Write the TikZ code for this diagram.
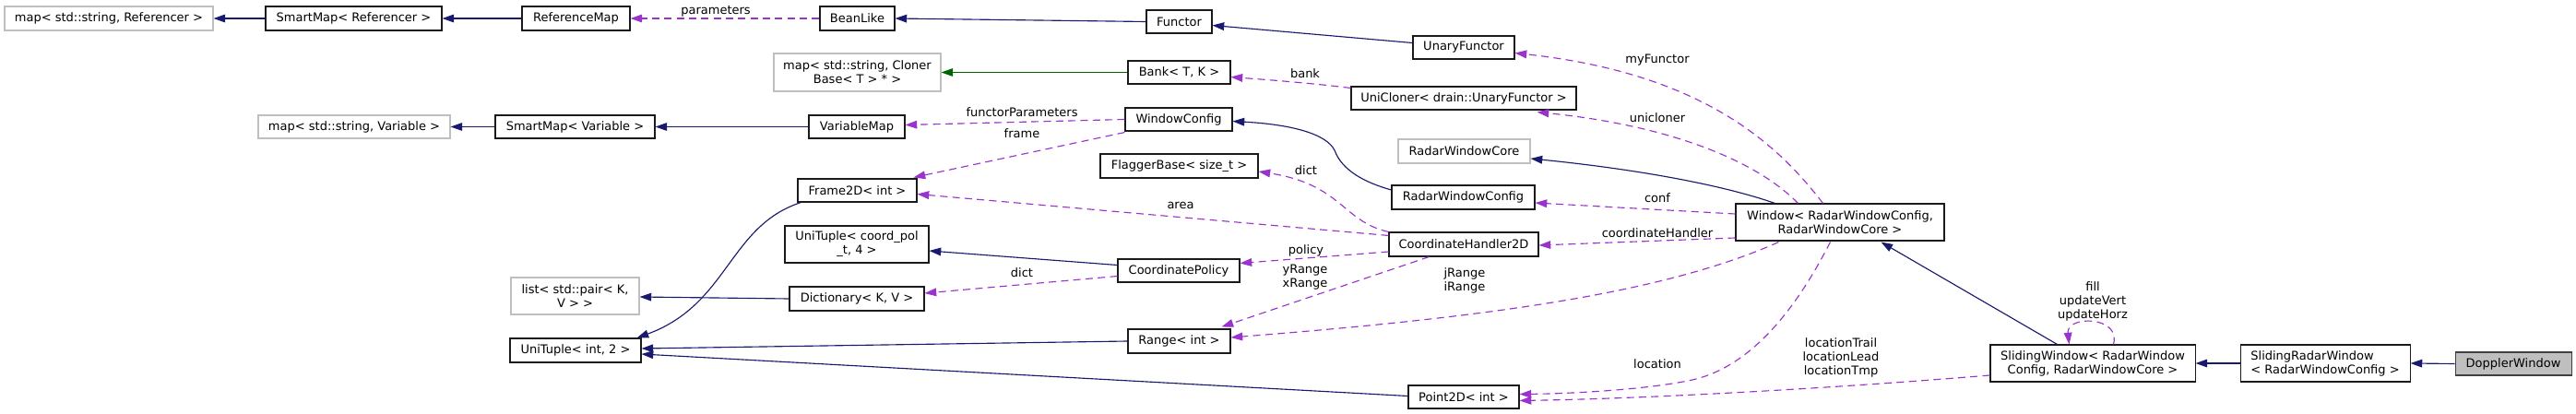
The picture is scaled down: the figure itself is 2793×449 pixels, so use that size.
\documentclass[tikz,border=0pt]{standalone}
\usepackage{fontspec}
\setmainfont{DejaVu Sans}
\usetikzlibrary{arrows.meta,calc}
\definecolor{inhcol}{HTML}{191970}
\definecolor{grncol}{HTML}{006400}
\definecolor{usecol}{HTML}{9A32CD}
\definecolor{boxcol}{HTML}{1A1A1A}
\definecolor{rootcol}{HTML}{404040}
\definecolor{extcol}{HTML}{BFBFBF}
\definecolor{rootfill}{HTML}{BFBFBF}
\newcommand\cbox[7][]{%
  \pgfmathsetmacro\cbW{(#5-#3)*0.75}%
  \pgfmathsetmacro\cbH{(#6-#4)*0.75}%
  \pgfmathsetmacro\cbX{(#3+#5)/2}%
  \pgfmathsetmacro\cbY{(#4+#6)/2}%
  \node[cls,#1,minimum width=\cbW pt,minimum height=\cbH pt] (#2) at (\cbX,\cbY) {#7};}
\tikzset{
  cls/.style={draw=boxcol, line width=0.8pt, fill=white, inner sep=0pt,
    font=\fontsize{9.75}{11.25}\selectfont, align=center},
  ext/.style={draw=extcol},
  root/.style={fill=rootfill, draw=rootcol},
  tip/.style={-{Triangle[length=9.5pt,width=6.5pt]}},
  inh/.style={draw=inhcol, line width=0.85pt, tip},
  grn/.style={draw=grncol, line width=0.85pt, tip},
  use/.style={draw=usecol, line width=0.85pt, dash pattern=on 6pt off 4pt, tip},
  lbl/.style={font=\fontsize{9.75}{11.25}\selectfont, inner sep=0pt, align=center, text=black}
}
\begin{document}
\begin{tikzpicture}[x=0.75pt,y=-0.75pt]
\useasboundingbox (0,0) rectangle (2793,449);
\fill[white] (0,0) rectangle (2793,449);
% nodes
\cbox[ext]{mapRef}{5}{7}{231}{33}{map< std::string, Referencer >}
\cbox{smRef}{288}{7}{479}{33}{SmartMap< Referencer >}
\cbox{refMap}{566}{7}{683}{33}{ReferenceMap}
\cbox{beanLike}{889}{7}{970}{33}{BeanLike}
\cbox{functor}{1243}{11}{1314}{36}{Functor}
\cbox{unaryF}{1532}{39}{1642}{64}{UnaryFunctor}
\cbox[ext]{mapCloner}{839}{58}{1020}{99}{map< std::string, Cloner\\Base< T > * >}
\cbox{bank}{1223}{66}{1334}{91}{Bank< T, K >}
\cbox{uniCloner}{1465}{94}{1709}{119}{UniCloner< drain::UnaryFunctor >}
\cbox[ext]{mapVar}{280}{125}{488}{150}{map< std::string, Variable >}
\cbox{smVar}{537}{125}{710}{150}{SmartMap< Variable >}
\cbox{varMap}{877}{125}{981}{150}{VariableMap}
\cbox{winCfg}{1220}{117}{1336}{142}{WindowConfig}
\cbox[ext]{rwCore}{1516}{151}{1659}{177}{RadarWindowCore}
\cbox{flagger}{1193}{167}{1364}{193}{FlaggerBase< size\_t >}
\cbox{frame2d}{865}{194}{994}{219}{Frame2D< int >}
\cbox{rwCfg}{1509}{201}{1664}{227}{RadarWindowConfig}
\cbox{window}{1882}{221}{2108}{261}{Window< RadarWindowConfig,\\RadarWindowCore >}
\cbox{utCoord}{851}{245}{1007}{285}{UniTuple< coord\_pol\\\_t, 4 >}
\cbox{coordPol}{1212}{281}{1344}{306}{CoordinatePolicy}
\cbox{ch2d}{1506}{252}{1668}{278}{CoordinateHandler2D}
\cbox[ext]{listPair}{554}{301}{693}{341}{list< std::pair< K,\\V > >}
\cbox{dict}{856}{311}{1002}{337}{Dictionary< K, V >}
\cbox{ut2}{553}{367}{695}{393}{UniTuple< int, 2 >}
\cbox{range}{1223}{357}{1334}{383}{Range< int >}
\cbox{point2d}{1527}{418}{1647}{443}{Point2D< int >}
\cbox{sliding}{2158}{374}{2380}{414}{SlidingWindow< RadarWindow\\Config, RadarWindowCore >}
\cbox[align=left]{slidingRadar}{2429}{374}{2613}{414}{SlidingRadarWindow\\< RadarWindowConfig >}
\cbox[root]{doppler}{2662}{382}{2788}{407}{DopplerWindow}
% inheritance edges
\draw[inh] (smRef.west) -- (mapRef.east);
\draw[inh] (refMap.west) -- (smRef.east);
\draw[inh] (functor.west) -- (beanLike.east);
\draw[inh] ($(unaryF.west)+(0,-5)$) -- ($(functor.east)+(0,4)$);
\draw[grn] (bank.west) -- (mapCloner.east);
\draw[inh] (smVar.west) -- (mapVar.east);
\draw[inh] (varMap.west) -- (smVar.east);
\draw[inh] ($(rwCfg.west)+(0,-8)$) .. controls (1480,198) and (1455,185) .. (1447,163) .. controls (1438,145) and (1400,135) .. ($(winCfg.east)+(0,2)$);
\draw[inh] ($(window.north west)+(43,0)$) .. controls (1860,198) and (1760,182) .. ($(rwCore.east)+(0,8)$);
\draw[inh] ($(sliding.north west)+(73,0)$) -- ($(window.south west)+(158,1)$);
\draw[inh] (slidingRadar.west) -- (sliding.east);
\draw[inh] (doppler.west) -- ($(slidingRadar.east)+(0,0)$);
\draw[inh] ($(coordPol.west)+(0,-6)$) -- ($(utCoord.east)+(0,7)$);
\draw[inh] (dict.west) -- ($(listPair.east)+(0,1)$);
\draw[inh] ($(frame2d.south west)+(4,0)$) .. controls (790,245) and (790,330) .. ($(ut2.north east)+(-5,0)$);
\draw[inh] (range.west) -- ($(ut2.east)+(0,-2)$);
\draw[inh] ($(point2d.west)+(0,-1)$) -- ($(ut2.east)+(0,4)$);
% usage edges
\draw[use] (beanLike.west) -- (refMap.east);
\draw[use] ($(uniCloner.north west)+(0,2)$) .. controls (1420,90) and (1380,87) .. ($(bank.east)+(0,5)$);
\draw[use] (winCfg.west) -- ($(varMap.east)+(0,-2)$);
\draw[use] ($(winCfg.south west)+(0,1)$) -- ($(frame2d.north east)+(-4,-1)$);
\draw[use] ($(window.north west)+(95,0)$) .. controls (1930,160) and (1850,80) .. ($(unaryF.east)+(0,6)$);
\draw[use] ($(window.north west)+(68,0)$) .. controls (1900,170) and (1800,135) .. ($(uniCloner.south east)+(-43,2)$);
\draw[use] ($(window.west)+(0,-9)$) -- ($(rwCfg.east)+(0,6)$);
\draw[use] ($(window.west)+(0,17)$) -- ($(ch2d.east)+(0,1)$);
\draw[use] ($(window.south west)+(47,1)$) .. controls (1800,320) and (1600,345) .. ($(range.east)+(0,-4)$);
\draw[use] ($(window.south west)+(103,1)$) .. controls (1950,330) and (1900,400) .. (1830,413) .. controls (1780,423) and (1700,427) .. ($(point2d.east)+(0,-3)$);
\draw[use] ($(sliding.west)+(0,13)$) .. controls (2000,420) and (1800,432) .. ($(point2d.east)+(0,4)$);
\draw[use] ($(sliding.north west)+(134,0)$) .. controls (2300,342) and (2240,342) .. ($(sliding.north west)+(86,0)$);
\draw[use] ($(ch2d.north west)+(0,4)$) -- ($(frame2d.east)+(0,4)$);
\draw[use] (ch2d.north west) .. controls (1455,240) and (1455,200) .. ($(flagger.east)+(0,6)$);
\draw[use] ($(ch2d.west)+(0,8)$) -- ($(coordPol.east)+(0,-8)$);
\draw[use] ($(ch2d.south west)+(44,0)$) -- ($(range.north east)+(-10,-2)$);
\draw[use] ($(coordPol.west)+(0,6)$) -- ($(dict.east)+(0,-6)$);
% labels
\node[lbl] (lParams) at (776,12) {parameters};
\node[lbl] (lBank) at (1415,80) {bank};
\node[lbl] (lFunctorParams) at (1108,122) {functorParameters};
\node[lbl] (lFrame) at (1108,145) {frame};
\node[lbl] (lMyFunctor) at (1797,65) {myFunctor};
\node[lbl] (lUnicloner) at (1797,128) {unicloner};
\node[lbl] (lConf) at (1797,215) {conf};
\node[lbl] (lCoordHandler) at (1797,252.5) {coordinateHandler};
\node[lbl] (lJI) at (1588,304.5) {jRange\\iRange};
\node[lbl] (lLocation) at (1797,394.5) {location};
\node[lbl] (lLocs) at (1996,387.5) {locationTrail\\locationLead\\locationTmp};
\node[lbl] (lFill) at (2269,326.5) {fill\\updateVert\\updateHorz};
\node[lbl] (lArea) at (1280,223) {area};
\node[lbl] (lDict1) at (1416,184.5) {dict};
\node[lbl] (lPolicy) at (1416,271.5) {policy};
\node[lbl] (lYX) at (1415,300.5) {yRange\\xRange};
\node[lbl] (lDict2) at (1108,296) {dict};
\end{tikzpicture}
\end{document}
